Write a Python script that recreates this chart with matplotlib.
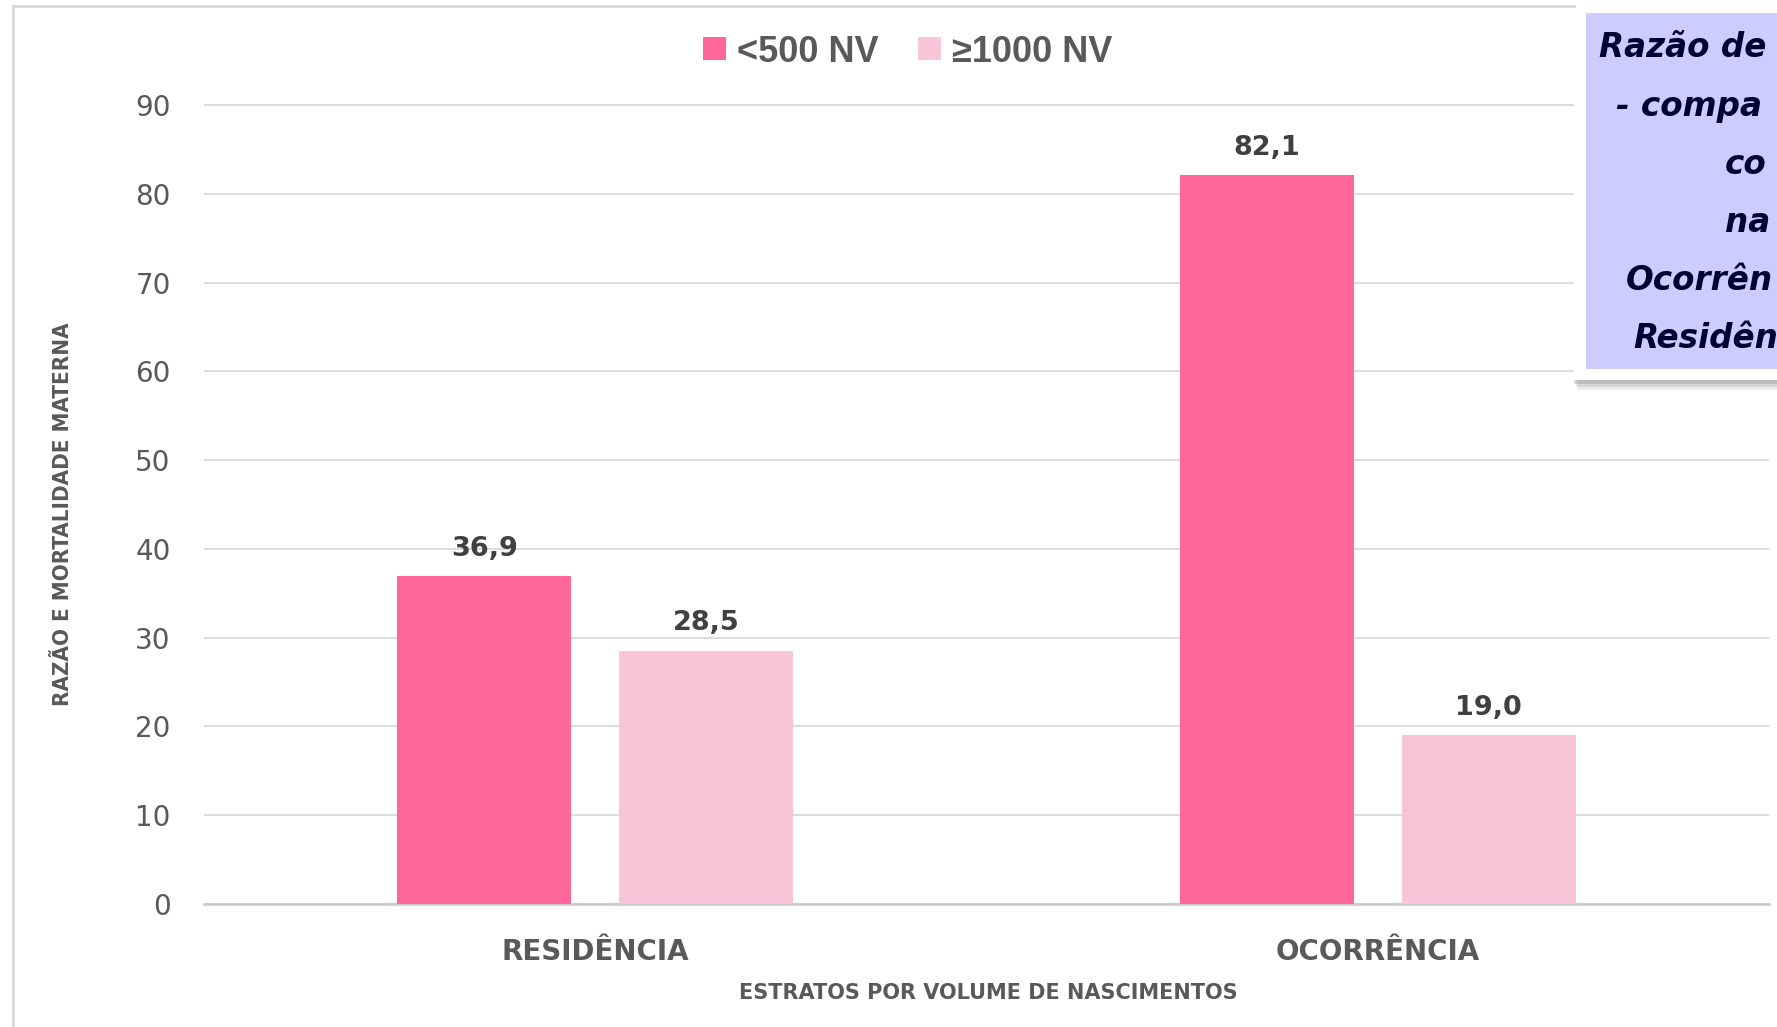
import matplotlib
matplotlib.use("Agg")
import matplotlib.pyplot as plt
import numpy as np
from matplotlib.patches import Rectangle
from matplotlib.lines import Line2D

categories = ["RESIDÊNCIA", "OCORRÊNCIA"]
series_names = ["<500 NV", "≥1000 NV"]
values_lt500 = [36.9, 82.1]
values_ge1000 = [28.5, 19.0]
value_labels_lt500 = ["36,9", "82,1"]
value_labels_ge1000 = ["28,5", "19,0"]
yticks = [0, 10, 20, 30, 40, 50, 60, 70, 80, 90]
ylabel = "RAZÃO E MORTALIDADE MATERNA"
xlabel = "ESTRATOS POR VOLUME DE NASCIMENTOS"
box_lines = ["Razão de", "- compa", "co", "na", "Ocorrên", "Residên"]

W, H = 1777, 1027
fig = plt.figure(figsize=(W / 100, H / 100), dpi=100)
fig.patch.set_facecolor("white")


def fx(x):
    return x / W


def fy(y):
    return 1 - y / H


C1 = "#FF6699"
C2 = "#F7C5D7"
GRAY = "#595959"

# axes
ax_left, ax_right = 204, 1769
y0_px, unit_px = 904, 8.878
ytop = 90.2
ax_top = y0_px - unit_px * ytop
ax = fig.add_axes([fx(ax_left), fy(y0_px), (ax_right - ax_left) / W, (y0_px - ax_top) / H])
ax.set_xlim(-0.5, 1.5)
ax.set_ylim(0, ytop)

x = np.arange(len(categories))
off, bw = 0.142, 0.2225
b1 = ax.bar(x - off, values_lt500, width=bw, color=C1, label=series_names[0], zorder=3)
b2 = ax.bar(x + off, values_ge1000, width=bw, color=C2, label=series_names[1], zorder=3)

ax.bar_label(b1, labels=value_labels_lt500, padding=10.5, fontsize=19.5,
             fontweight="bold", color="#404040", family="DejaVu Sans")
ax.bar_label(b2, labels=value_labels_ge1000, padding=10.5, fontsize=19.5,
             fontweight="bold", color="#404040", family="DejaVu Sans")

ax.set_yticks(yticks)
ax.set_yticklabels([str(t) for t in yticks])
ax.set_xticks(x)
ax.set_xticklabels(categories)
ax.tick_params(axis="y", length=0, pad=24, labelsize=20, labelcolor=GRAY)
ax.tick_params(axis="x", length=0, pad=24.5, labelsize=20, labelcolor=GRAY)
for t in ax.get_xticklabels():
    t.set_fontweight("bold")
    t.set_family("DejaVu Sans")

ax.grid(axis="y", color="#D9D9D9", linewidth=1.3, zorder=0)
ax.set_axisbelow(True)
for s in ["top", "right", "left"]:
    ax.spines[s].set_visible(False)
ax.spines["bottom"].set_color("#C8C8C8")
ax.spines["bottom"].set_linewidth(1.8)

# axis titles
fig.text(fx(63), fy(514), ylabel, rotation=90, ha="center", va="center",
         fontsize=16, fontweight="bold", fontstretch="condensed", color=GRAY,
         family="DejaVu Sans")
fig.text(fx(988), fy(993), xlabel, ha="center", va="center",
         fontsize=15, fontweight="bold", color=GRAY, family="DejaVu Sans")

# legend
fig.legend(handles=[b1, b2], labels=series_names, loc="center",
           bbox_to_anchor=(fx(908), fy(52)), ncol=2, frameon=False,
           handlelength=0.62, handleheight=0.62,
           handletextpad=0.32, columnspacing=1.1, labelcolor=GRAY,
           prop={"family": "Liberation Sans", "size": 26, "weight": "bold"})

# outer frame
fig.add_artist(Line2D([fx(13), fx(13)], [fy(6), fy(1027)], transform=fig.transFigure,
                      color="#D9D9D9", linewidth=2))
fig.add_artist(Line2D([fx(13), fx(1574)], [fy(6), fy(6)], transform=fig.transFigure,
                      color="#D9D9D9", linewidth=2))

# text box with shadow
for dx, dy, a in [(6, 10, 0.12), (4, 7, 0.18), (2, 4, 0.25)]:
    fig.add_artist(Rectangle((fx(1574 + dx - 2), fy(380 + dy)), (W - 1572 - dx) / W,
                             (380 + dy - 4) / H, transform=fig.transFigure,
                             facecolor="#707070", edgecolor="none", alpha=a))
fig.add_artist(Rectangle((fx(1574), fy(380)), (W - 1574) / W, 379 / H,
                         transform=fig.transFigure, facecolor="white", edgecolor="none"))
fig.add_artist(Rectangle((fx(1586), fy(369)), (W - 1586) / W, 356 / H,
                         transform=fig.transFigure, facecolor="#CCCCFF", edgecolor="none"))

line_x = [1599, 1616, 1725, 1725, 1626, 1633]
line_y = [57, 116, 174, 232, 290, 348]
for txt, lx, ly in zip(box_lines, line_x, line_y):
    fig.text(fx(lx), fy(ly), txt, ha="left", va="baseline", fontsize=23.5,
             fontweight="bold", fontstyle="italic", color="#000033",
             family="DejaVu Sans")

fig.savefig("out.png", dpi=100)
